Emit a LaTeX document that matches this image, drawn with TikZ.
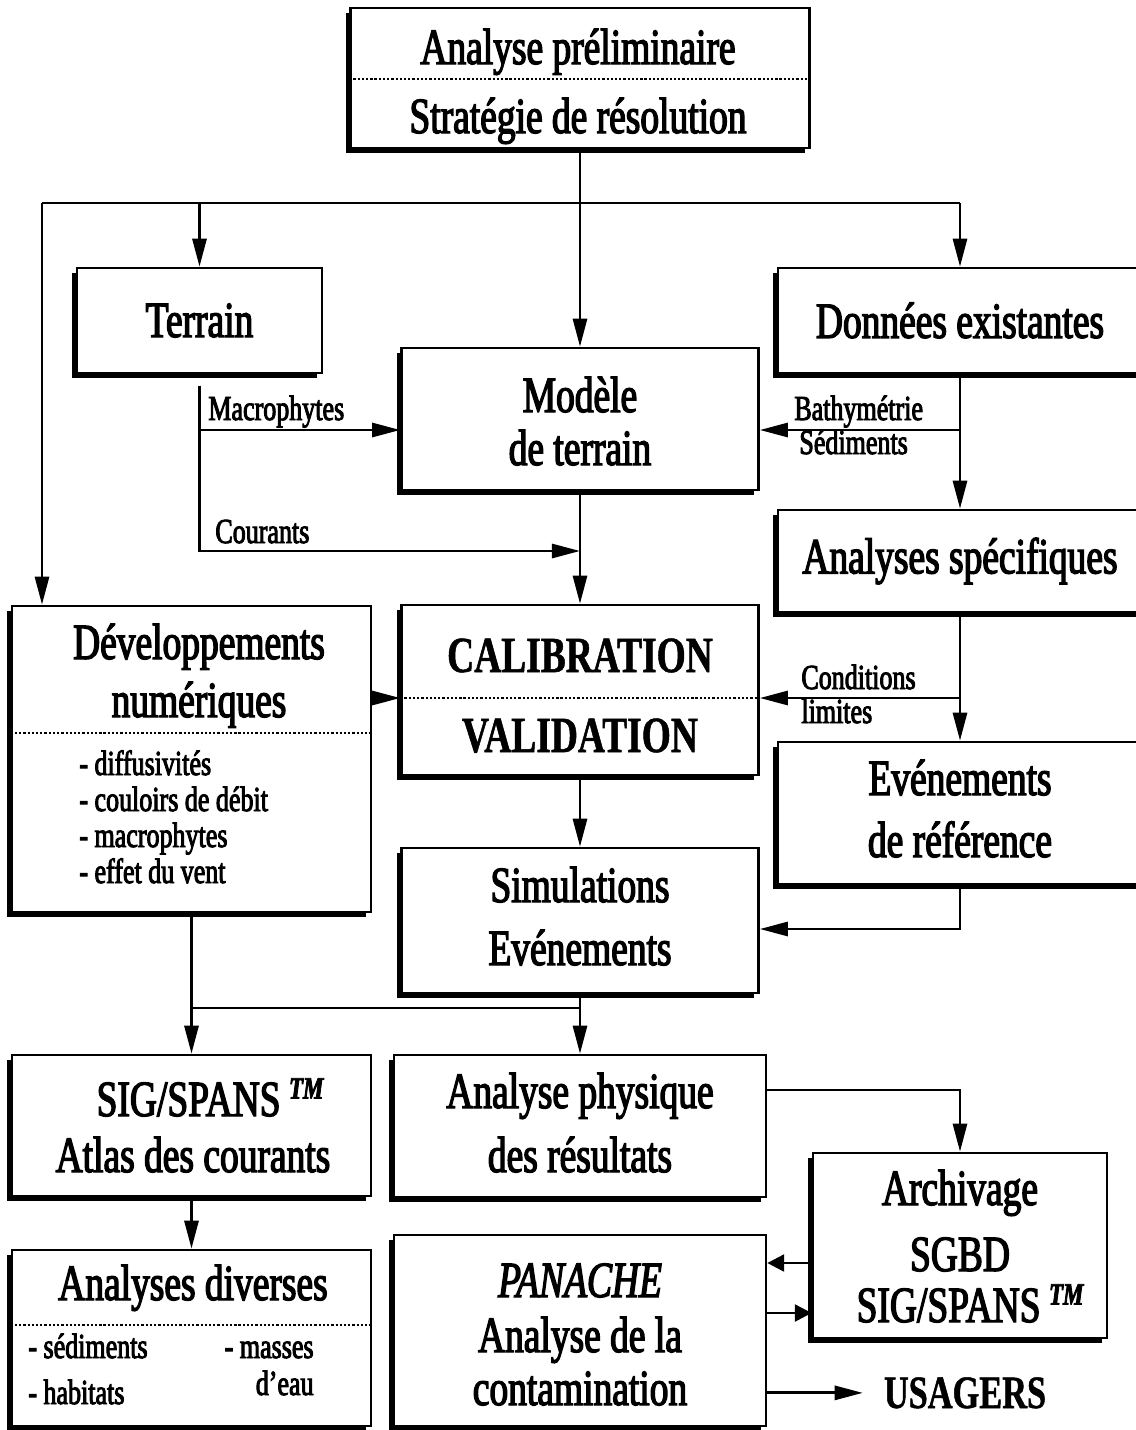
\documentclass[tikz,border=0pt]{standalone}
\usepackage{fontspec}
\setmainfont{Liberation Serif}[FakeStretch=0.74,FakeBold=2.6,BoldFeatures={FakeBold=1}]
\usetikzlibrary{arrows.meta,shadows,positioning}
\newcommand\tmark{\raisebox{0.75ex}{\fontsize{22}{22}\selectfont\itshape\bfseries TM}}

\begin{document}
\begin{tikzpicture}[x=0.025cm,y=-0.025cm,line width=2pt,
  >={Triangle[length=20pt,width=10pt]},
  blk/.style={draw,fill=white,line width=1.8pt,inner sep=0pt,
    font=\fontsize{36}{40}\selectfont,
    drop shadow={shadow xshift=-3.5pt,shadow yshift=-3.5pt,opacity=1,fill=black}},
  txt/.style={anchor=base,inner sep=0pt,font=\fontsize{36}{40}\selectfont},
  lbl/.style={anchor=base west,inner sep=0pt,font=\fontsize{25}{25}\selectfont},
  itm/.style={anchor=base west,inner sep=0pt,font=\fontsize{25}{25}\selectfont},
  sep/.style={line width=1.6pt,dash pattern=on 1.6pt off 1.4pt},
  stub/.style={-{Triangle[length=12pt,width=12pt]}}]

\fill[white] (0,0) rectangle (1136,1430);
\useasboundingbox (0,0) rectangle (1136,1430);

% boxes
\node[blk,minimum width=11.475cm,minimum height=3.5cm] (top) at (580,78) {};
\node[blk,minimum width=6.125cm,minimum height=2.625cm] (terrain) at (199.5,320.5) {Terrain};
\node[blk,minimum width=9.1cm,minimum height=2.625cm] (donnees) at (960,320.5) {Données existantes};
\node[blk,minimum width=8.925cm,minimum height=3.55cm] (modele) at (580,419) {};
\node[blk,minimum width=9.1cm,minimum height=2.55cm] (spec) at (960,561) {Analyses spécifiques};
\node[blk,minimum width=8.975cm,minimum height=7.65cm] (dev) at (191.5,759) {};
\node[blk,minimum width=8.925cm,minimum height=4.25cm] (calib) at (580,690) {};
\node[blk,minimum width=9.1cm,minimum height=3.55cm] (evt) at (960,813) {};
\node[blk,minimum width=8.925cm,minimum height=3.625cm] (simul) at (580,920.5) {};
\node[blk,minimum width=8.975cm,minimum height=3.525cm] (sig) at (191.5,1125.5) {};
\node[blk,minimum width=9.3cm,minimum height=3.55cm] (phys) at (580,1126) {};
\node[blk,minimum width=7.35cm,minimum height=4.625cm] (arch) at (960,1245.5) {};
\node[blk,minimum width=8.975cm,minimum height=4.4cm] (div) at (191.5,1338) {};
\node[blk,minimum width=9.3cm,minimum height=4.775cm] (pan) at (580,1330.5) {};

% texts
\node[txt] (pre) at (578,64) {Analyse préliminaire};
\node[txt] (strat) at (578,133) {Stratégie de résolution};
\draw[sep] (top.west |- 0,79) -- (top.east |- 0,79);

\node[txt] (modA) at (580,412) {Modèle};
\node[txt] (modB) at (580,465) {de terrain};

\node[txt,font=\fontsize{36}{40}\selectfont\bfseries] (calA) at (580,672) {CALIBRATION};
\node[txt,font=\fontsize{36}{40}\selectfont\bfseries] (calB) at (580,752) {VALIDATION};
\draw[sep] (calib.west |- 0,698) -- (calib.east |- 0,698);

\node[txt] (devA) at (199,659) {Développements};
\node[txt] (devB) at (199,717) {numériques};
\draw[sep] (dev.west |- 0,733) -- (dev.east |- 0,733);
\node[itm] (it1) at (78,775) {- diffusivités};
\node[itm] (it2) at (78,811) {- couloirs de débit};
\node[itm] (it3) at (78,847) {- macrophytes};
\node[itm] (it4) at (78,883) {- effet du vent};

\node[txt] (evtA) at (960,795) {Evénements};
\node[txt] (evtB) at (960,857) {de référence};

\node[txt] (simA) at (580,902) {Simulations};
\node[txt] (simB) at (580,965) {Evénements};

\node[txt] (sigA) at (210,1116) {SIG/SPANS\,\tmark};
\node[txt] (sigB) at (193,1172) {Atlas des courants};

\node[txt] (phyA) at (580,1108) {Analyse physique};
\node[txt] (phyB) at (580,1172) {des résultats};

\node[txt] (arcA) at (960,1205) {Archivage};
\node[txt] (arcB) at (960,1271) {SGBD};
\node[txt] (arcC) at (970,1322) {SIG/SPANS\,\tmark};

\node[txt] (divA) at (193,1300) {Analyses diverses};
\draw[sep] (div.west |- 0,1325) -- (div.east |- 0,1325);
\node[itm] (dv1) at (27,1358) {- sédiments};
\node[itm] (dv2) at (27,1404) {- habitats};
\node[itm,anchor=base east] (dv3) at (315,1358) {- masses};
\node[itm,anchor=base east] (dv4) at (315,1395) {d'eau};

\node[txt,font=\fontsize{36}{40}\selectfont\itshape] (panA) at (580,1297) {PANACHE};
\node[txt] (panB) at (580,1352) {Analyse de la};
\node[txt] (panC) at (580,1405) {contamination};

\node[txt,font=\fontsize{33}{40}\selectfont\bfseries] (usagers) at (965,1408) {USAGERS};

% labels
\node[lbl] (lmac) at (207,420) {Macrophytes};
\node[lbl] (lcou) at (214,543) {Courants};
\node[lbl] (lbat) at (793,420) {Bathymétrie};
\node[lbl] (lsed) at (798,454) {Sédiments};
\node[lbl] (lcon) at (800,689) {Conditions};
\node[lbl] (llim) at (800,723) {limites};

% connectors
\coordinate (hub) at (580,203);
\coordinate (lft) at (42,203);
\coordinate (tb) at ([yshift=-8pt]terrain.south);
\draw[->] (top.south) -- (modele.north);
\draw (lft) -- (hub -| donnees.north);
\draw[->] (lft) -- (lft |- dev.north);
\draw[->] (hub -| terrain.north) -- (terrain.north);
\draw[->] (hub -| donnees.north) -- (donnees.north);

\draw[->] (tb) |- (modele.west |- 0,430);
\draw[->] (tb) |- (modele.south |- 0,551);
\draw[->] (modele.south) -- (calib.north);

\draw[->] (donnees.south) -- (spec.north);
\draw[->] (donnees.south |- 0,430) -- (modele.east |- 0,430);
\draw[->] (spec.south) -- (evt.north);
\draw[->] (spec.south |- 0,698) -- (calib.east |- 0,698);
\draw[->] (evt.south) |- (simul.east |- 0,929);

\draw[->] (dev.east |- 0,698) -- (calib.west |- 0,698);
\draw[->] (calib.south) -- (simul.north);
\draw[->] (simul.south) -- (phys.north);
\draw[->] (dev.south) -- (sig.north);
\draw (dev.south |- 0,1008) -- (simul.south |- 0,1008);

\draw[->] (phys.east |- 0,1090) -| (arch.north);
\draw[->] (sig.south) -- (div.north);
\draw[stub] (arch.west |- 0,1263) -- (pan.east |- 0,1263);
\draw[stub] (pan.east |- 0,1313) -- (arch.west |- 0,1313);
\draw[->] (pan.east |- usagers.west) -- ([xshift=-14pt]usagers.west);

\end{tikzpicture}
\end{document}
